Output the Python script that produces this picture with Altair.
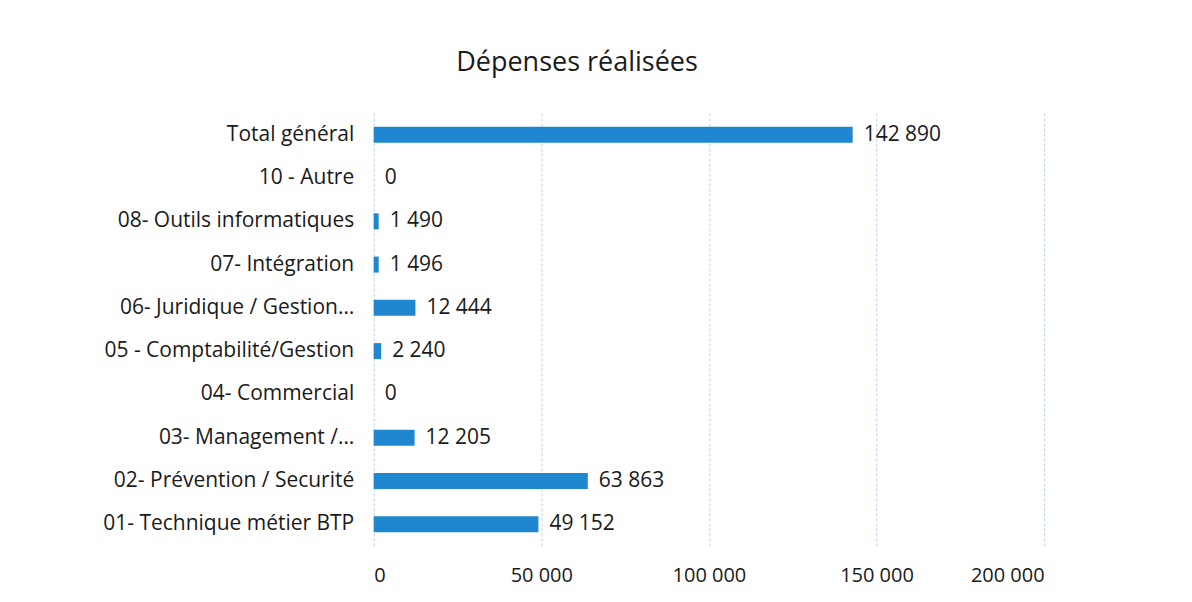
import altair as alt
import pandas as pd

categories = [
    "Total général",
    "10 - Autre",
    "08- Outils informatiques",
    "07- Intégration",
    "06- Juridique / Gestion…",
    "05 - Comptabilité/Gestion",
    "04- Commercial",
    "03- Management /…",
    "02- Prévention / Securité",
    "01- Technique métier BTP",
]
values = [142890, 0, 1490, 1496, 12444, 2240, 0, 12205, 63863, 49152]
x_ticks = [0, 50000, 100000, 150000, 200000]

df = pd.DataFrame({
    "cat": categories,
    "val": values,
    "lab": [f"{v:,}".replace(",", " ") for v in values],
})

FONT = "Open Sans"
BLUE = "#1E87D0"
TXT = "#1a1a1a"

y_enc = alt.Y(
    "cat:N",
    sort=categories,
    scale=alt.Scale(paddingInner=0.63, paddingOuter=0.315),
    axis=alt.Axis(
        title=None, ticks=False, domain=False, grid=False, labelFontSize=21,
        labelPadding=20, labelColor=TXT, labelFont=FONT, labelLimit=400,
    ),
)

x_enc = alt.X(
    "val:Q",
    scale=alt.Scale(domain=[0, 200000], nice=False),
    axis=alt.Axis(
        title=None, values=x_ticks, format=",d", ticks=False, domain=False,
        grid=True, gridColor="#b9d1ea", gridDash=[3, 2], gridWidth=1,
        labelFontSize=20, labelPadding=20, labelColor=TXT, labelFont=FONT,
    ),
)

bars = alt.Chart(df).mark_bar(color=BLUE).encode(x=x_enc, y=y_enc)
labels = alt.Chart(df).mark_text(
    align="left", baseline="middle", dx=11, fontSize=21, font=FONT, color=TXT
).encode(x="val:Q", y=alt.Y("cat:N", sort=categories), text="lab:N")

chart = (
    alt.layer(bars, labels)
    .properties(
        width=671,
        height=433,
        title=alt.TitleParams(
            "Dépenses réalisées", fontSize=27, font=FONT, fontWeight="normal",
            color=TXT, dx=-132, offset=36, anchor="middle",
        ),
        autosize=alt.AutoSizeParams(type="none"),
        padding={"left": 366, "top": 105, "right": 140, "bottom": 50},
    )
    .configure(locale={"number": {"decimal": ",", "thousands": " ", "grouping": [3], "currency": ["", " €"]}})
    .configure_view(strokeWidth=0, stroke="transparent")
)

chart.save("out.html", embed_options={"renderer": "svg", "actions": False})
